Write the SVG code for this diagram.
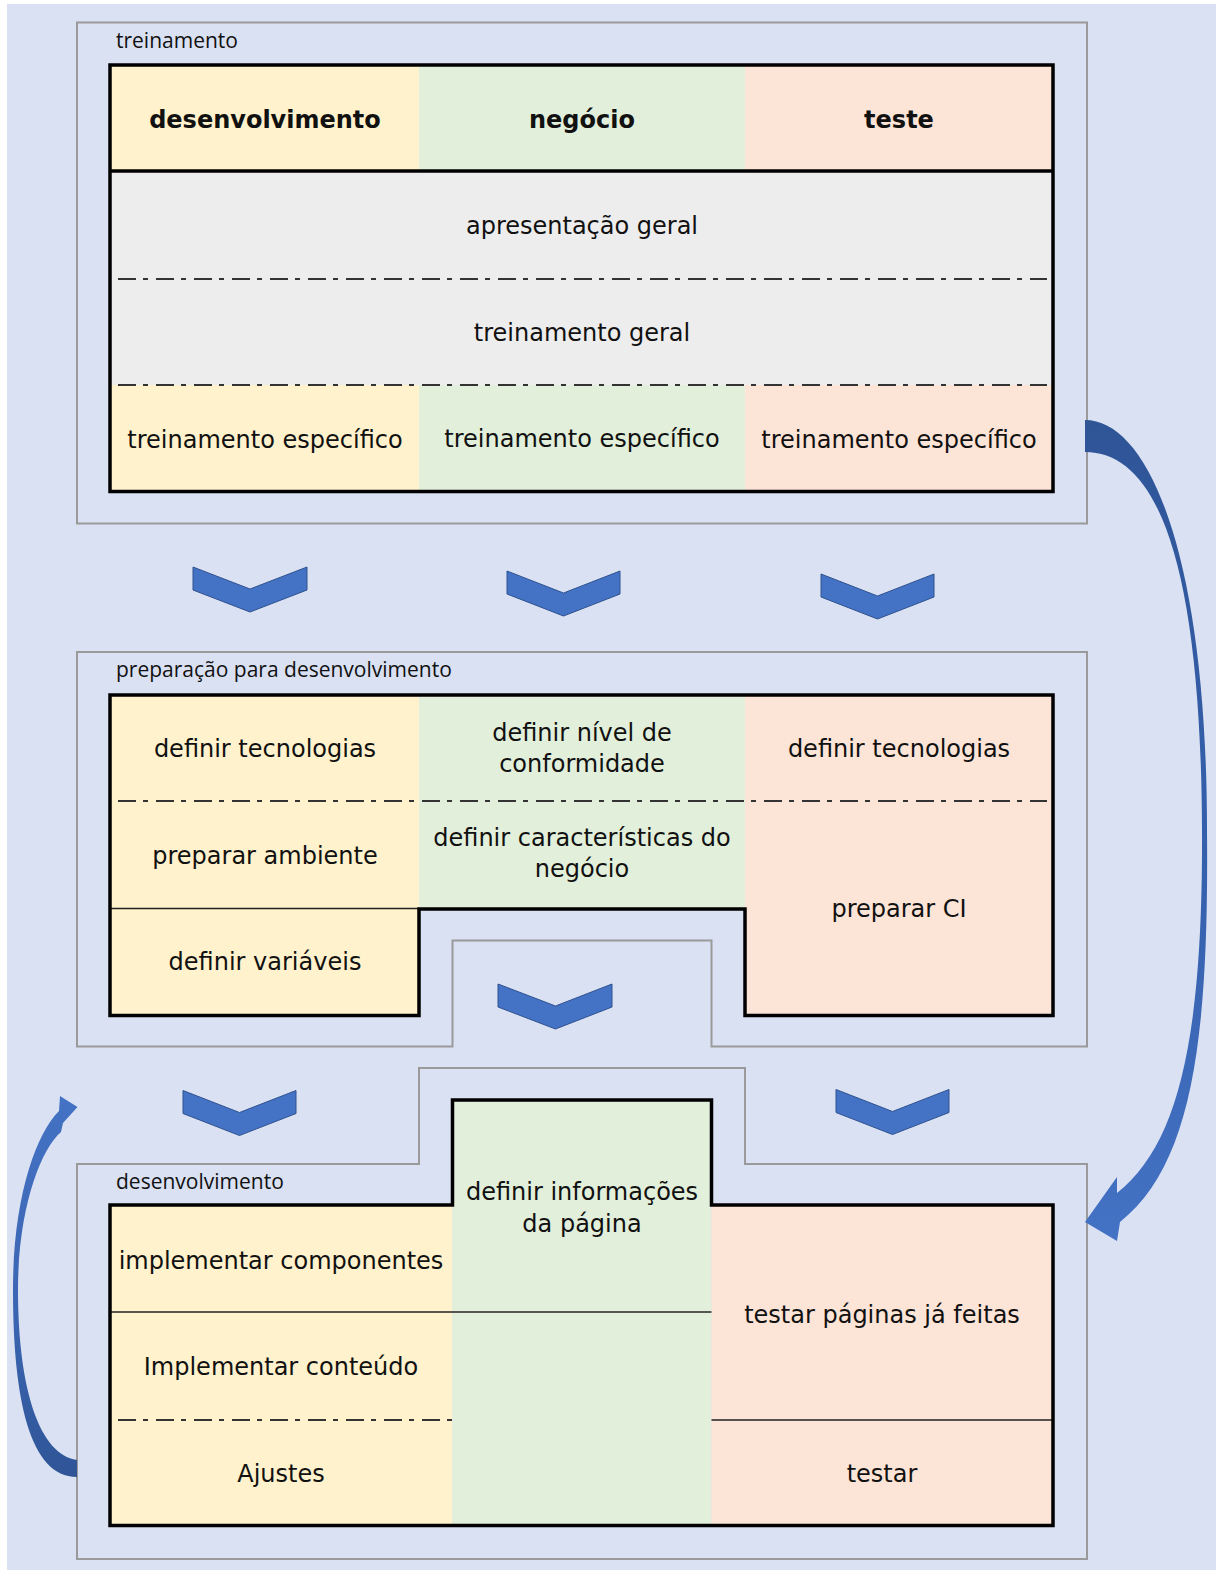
<svg xmlns="http://www.w3.org/2000/svg" width="1216" height="1573" viewBox="0 0 1216 1573">
<defs>
<style>
.t{font-family:"DejaVu Sans",Verdana,sans-serif;font-size:24px;fill:#111;text-anchor:middle}
.b{font-weight:bold}
.lbl{font-family:"Open Sans","Liberation Sans",sans-serif;font-size:21px;fill:#111}
.panel{fill:#dae1f3;stroke:#9a9a9a;stroke-width:2}
.box{fill:none;stroke:#000;stroke-width:3.5;stroke-linejoin:miter}
.dd{stroke:#333;stroke-width:2;stroke-dasharray:18 7 5 8;fill:none}
.sl{stroke:#222;stroke-width:1.5;fill:none}
.y{fill:#fff2cc}.g{fill:#e2efda}.p{fill:#fce4d6}.gr{fill:#ededed}
.chev{fill:#4472c4;stroke:#2f528f;stroke-width:1}
</style>
<linearGradient id="gR" x1="0" y1="0" x2="0" y2="1">
<stop offset="0" stop-color="#2f5597"/><stop offset="0.55" stop-color="#3560ad"/><stop offset="1" stop-color="#4472c4"/>
</linearGradient>
<linearGradient id="gL" x1="0" y1="0" x2="0" y2="1">
<stop offset="0" stop-color="#4472c4"/><stop offset="0.6" stop-color="#3a64b0"/><stop offset="1" stop-color="#2f5597"/>
</linearGradient>
</defs>
<rect width="1216" height="1573" fill="#ffffff"/>
<rect x="7" y="4" width="1209" height="1566" fill="#dae1f3"/>

<g id="panel-treinamento">
<rect class="panel" x="77" y="22.5" width="1010" height="501"/>
<text class="lbl" x="116" y="48">treinamento</text>
<rect class="y" x="110" y="65" width="309" height="106"/>
<rect class="g" x="419" y="65" width="326" height="106"/>
<rect class="p" x="745" y="65" width="308" height="106"/>
<rect class="gr" x="110" y="171" width="943" height="214"/>
<rect class="y" x="110" y="385" width="309" height="106.5"/>
<rect class="g" x="419" y="385" width="326" height="106.5"/>
<rect class="p" x="745" y="385" width="308" height="106.5"/>
<line class="dd" x1="118" y1="279" x2="1047" y2="279"/>
<line class="dd" x1="118" y1="385" x2="1047" y2="385"/>
<line x1="110" y1="171" x2="1053" y2="171" stroke="#000" stroke-width="3.5"/>
<rect class="box" x="110" y="65" width="943" height="426.5"/>
<g id="h-dev"><text class="t b" x="265" y="128">desenvolvimento</text></g>
<g id="h-neg"><text class="t b" x="582" y="128">negócio</text></g>
<g id="h-test"><text class="t b" x="899" y="128">teste</text></g>
<g id="n-apresentacao"><text class="t" x="582" y="234">apresentação geral</text></g>
<g id="n-treinamento-geral"><text class="t" x="582" y="340.5">treinamento geral</text></g>
<g id="n-te-dev"><text class="t" x="265" y="448">treinamento específico</text></g>
<g id="n-te-neg"><text class="t" x="582" y="447">treinamento específico</text></g>
<g id="n-te-test"><text class="t" x="899" y="448">treinamento específico</text></g>
</g>

<g id="panel-preparacao">
<path class="panel" d="M77,652 L1087,652 L1087,1046.5 L711.5,1046.5 L711.5,940.5 L452.5,940.5 L452.5,1046.5 L77,1046.5 Z"/>
<text class="lbl" x="116" y="677">preparação para desenvolvimento</text>
<rect class="y" x="110" y="695" width="309" height="320.5"/>
<rect class="g" x="419" y="695" width="326" height="214"/>
<rect class="p" x="745" y="695" width="308" height="320.5"/>
<line class="dd" x1="118" y1="801" x2="1047" y2="801"/>
<line class="sl" x1="110" y1="908.5" x2="419" y2="908.5"/>
<path class="box" d="M110,695 L1053,695 L1053,1015.5 L745,1015.5 L745,909 L419,909 L419,1015.5 L110,1015.5 Z"/>
<g id="n-def-tec-dev"><text class="t" x="265" y="757">definir tecnologias</text></g>
<g id="n-def-nivel"><text class="t" x="582" y="741">definir nível de</text><text class="t" x="582" y="772">conformidade</text></g>
<g id="n-def-tec-test"><text class="t" x="899" y="757">definir tecnologias</text></g>
<g id="n-prep-amb"><text class="t" x="265" y="864">preparar ambiente</text></g>
<g id="n-def-carac"><text class="t" x="582" y="846">definir características do</text><text class="t" x="582" y="877">negócio</text></g>
<g id="n-prep-ci"><text class="t" x="899" y="916.5">preparar CI</text></g>
<g id="n-def-var"><text class="t" x="265" y="969.5">definir variáveis</text></g>
</g>

<g id="panel-desenvolvimento">
<path class="panel" d="M77,1164 L419,1164 L419,1068 L745,1068 L745,1164 L1087,1164 L1087,1559 L77,1559 Z"/>
<text class="lbl" x="116" y="1189">desenvolvimento</text>
<rect class="y" x="110" y="1205" width="342.5" height="320.5"/>
<rect class="g" x="452.5" y="1100" width="259" height="425.5"/>
<rect class="p" x="711.5" y="1205" width="341.5" height="320.5"/>
<line class="sl" x1="110" y1="1312" x2="711.5" y2="1312"/>
<line class="sl" x1="711.5" y1="1420" x2="1053" y2="1420"/>
<line class="dd" x1="118" y1="1420" x2="452.5" y2="1420"/>
<path class="box" d="M110,1205 L452.5,1205 L452.5,1100 L711.5,1100 L711.5,1205 L1053,1205 L1053,1525.5 L110,1525.5 Z"/>
<g id="n-def-info"><text class="t" x="582" y="1200">definir informações</text><text class="t" x="582" y="1232">da página</text></g>
<g id="n-impl-comp"><text class="t" x="281" y="1268.5">implementar componentes</text></g>
<g id="n-impl-cont"><text class="t" x="281" y="1375">Implementar conteúdo</text></g>
<g id="n-ajustes"><text class="t" x="281" y="1481.5">Ajustes</text></g>
<g id="n-testar-pag"><text class="t" x="882" y="1322.5">testar páginas já feitas</text></g>
<g id="n-testar"><text class="t" x="882" y="1481.5">testar</text></g>
</g>

<g id="connectors">
<path class="chev" d="M193,567 L250,589 L307,567 L307,590 L250,612 L193,590 Z"/>
<path class="chev" d="M507,571 L563.5,593 L620,571 L620,594 L563.5,616 L507,594 Z"/>
<path class="chev" d="M821,574 L877.5,596 L934,574 L934,597 L877.5,619 L821,597 Z"/>
<path class="chev" d="M498,984 L555.5,1006 L612,984 L612,1007 L555.5,1029 L498,1007 Z"/>
<path class="chev" d="M183,1090.5 L239.5,1112.5 L296,1090.5 L296,1113.5 L239.5,1135.5 L183,1113.5 Z"/>
<path class="chev" d="M836,1089.5 L892.5,1111.5 L949,1089.5 L949,1112.5 L892.5,1134.5 L836,1112.5 Z"/>
<path id="arrow-right" fill="url(#gR)" d="M1085,420 C1150,420 1207,560 1207,830 C1209,1040 1192,1165 1120,1222 L1117,1241 L1085,1222 L1117,1177 L1117,1193 C1178,1145 1203,1040 1202,830 C1201,570 1160,452 1085,452 Z"/>
<path id="arrow-left" fill="url(#gL)" d="M77,1477 C30,1477 13,1400 13,1290 C13,1200 35,1135 59,1111 L60,1096 L77.5,1107 L63,1123 L61,1132 C40,1150 18,1210 18,1290 C18,1390 40,1455 77,1460 Z"/>
</g>
</svg>
